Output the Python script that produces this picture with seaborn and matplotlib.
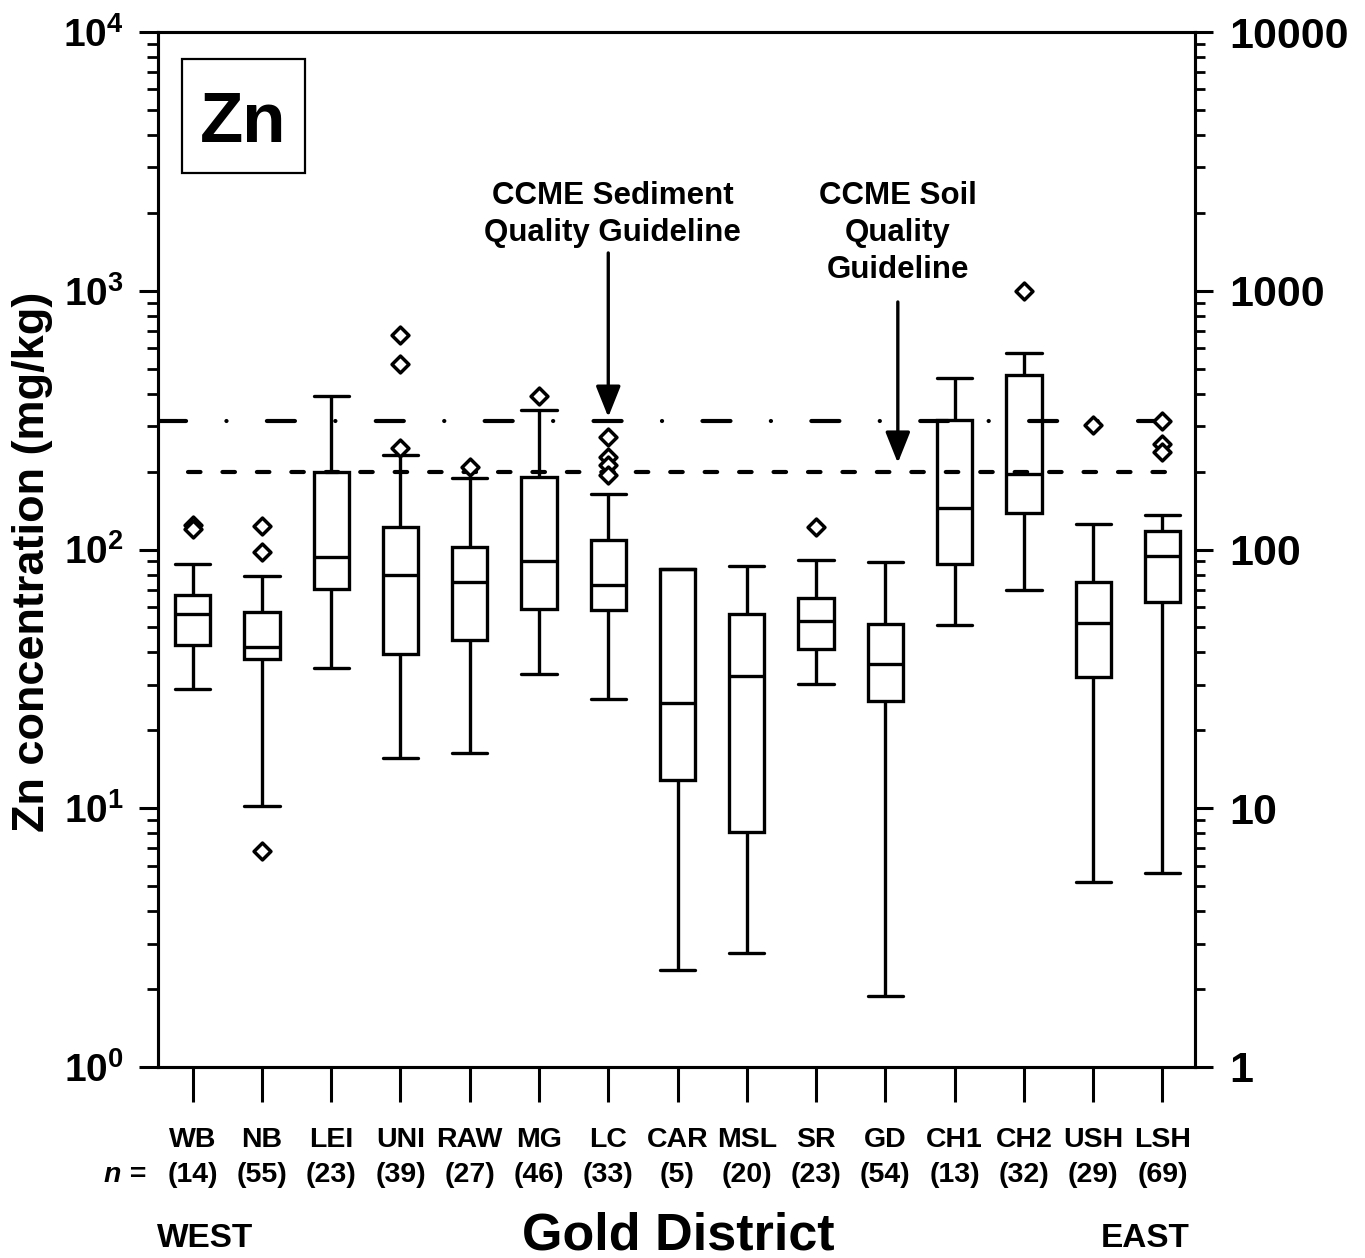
import numpy as np
import pandas as pd
import matplotlib
matplotlib.use("Agg")
import matplotlib.pyplot as plt
import matplotlib.transforms as mtransforms
from matplotlib.patches import Rectangle
from matplotlib.ticker import LogLocator, NullFormatter, FixedLocator, FixedFormatter
import seaborn as sns

# ---------------- data ----------------
districts = ["WB", "NB", "LEI", "UNI", "RAW", "MG", "LC", "CAR", "MSL", "SR",
             "GD", "CH1", "CH2", "USH", "LSH"]
n_samples = [14, 55, 23, 39, 27, 46, 33, 5, 20, 23, 54, 13, 32, 29, 69]
whisker_low = [28.8, 10.2, 34.9, 15.7, 16.3, 33.0, 26.5, 2.37, 2.76, 30.2,
               1.88, 51.0, 70.0, 5.17, 5.63]
q1 = [42.7, 37.7, 70.4, 39.6, 44.6, 58.9, 58.2, 12.9, 8.09, 41.1,
      26.0, 88.2, 138.3, 32.2, 62.7]
median = [56.5, 42.0, 93.3, 80.0, 75.2, 90.0, 72.7, 25.4, 32.5, 52.8,
          36.0, 145.2, 196.4, 52.0, 94.7]
q3 = [67.0, 57.2, 199.0, 121.8, 102.6, 190.0, 108.6, 84.1, 56.2, 65.0,
      51.7, 315.5, 474.0, 74.9, 117.6]
whisker_high = [87.7, 79.3, 390.7, 231.7, 188.8, 346.0, 163.8, 84.1, 86.3, 91.1,
                89.3, 459.0, 576.0, 126.0, 136.4]
outlier_district = ["WB", "WB", "NB", "NB", "NB", "UNI", "UNI", "UNI", "RAW", "MG",
                    "LC", "LC", "LC", "LC", "SR", "CH2", "USH", "LSH", "LSH", "LSH"]
outlier_value = [124.8, 120.5, 123.3, 97.8, 6.83, 672, 522, 247.5, 208, 391.6,
                 272, 227.7, 211.4, 193.5, 121.8, 1002, 302, 313, 256.4, 238.0]
sediment_guideline = 315
soil_guideline = 200
left_tick_values = [1, 10, 100, 1000, 10000]
left_tick_labels = [r"$\mathbf{10^{0}}$", r"$\mathbf{10^{1}}$", r"$\mathbf{10^{2}}$",
                    r"$\mathbf{10^{3}}$", r"$\mathbf{10^{4}}$"]
right_tick_labels = ["1", "10", "100", "1000", "10000"]

# five-number summary per district -> long table for seaborn
rows = []
for d, lo, a, m, b, hi in zip(districts, whisker_low, q1, median, q3, whisker_high):
    for v in (lo, a, m, b, hi):
        rows.append({"district": d, "value": v})
df = pd.DataFrame(rows)
df_out = pd.DataFrame({"district": outlier_district, "value": outlier_value})

# ---------------- style ----------------
sns.set_theme(style="ticks")
plt.rcParams["font.family"] = ["Liberation Sans", "DejaVu Sans"]
plt.rcParams["font.weight"] = "bold"
plt.rcParams["mathtext.fontset"] = "custom"
plt.rcParams["mathtext.rm"] = "Liberation Sans:bold"
plt.rcParams["mathtext.bf"] = "Liberation Sans:bold"
plt.rcParams["mathtext.it"] = "Liberation Sans:italic:bold"
plt.rcParams["lines.scale_dashes"] = False
plt.rcParams["axes.edgecolor"] = "black"
plt.rcParams["text.color"] = "black"
plt.rcParams["axes.labelcolor"] = "black"
plt.rcParams["xtick.color"] = "black"
plt.rcParams["ytick.color"] = "black"
plt.rcParams["xtick.labelcolor"] = "black"
plt.rcParams["ytick.labelcolor"] = "black"

W, H = 1365, 1258
fig = plt.figure(figsize=(W / 100, H / 100), dpi=100)
ax = fig.add_axes([158 / W, 1 - 1067 / H, (1195 - 158) / W, (1067 - 32) / H])

sns.boxplot(data=df, x="district", y="value", order=districts, whis=(0, 100),
            width=0.51, showfliers=False, color="white", linecolor="black",
            linewidth=2.4, log_scale=True, capwidths=0.51, ax=ax, zorder=2)

sns.stripplot(data=df_out, x="district", y="value", order=districts, jitter=False,
              marker="D", size=8.6, color="white", edgecolor="black",
              linewidth=2.5, ax=ax, zorder=5)

ax.set_yscale("log")
ax.set_ylim(1, 1e4)
ax.set_xlim(-0.5, 14.47)

# guideline lines
x_left = ax.get_xlim()[0]
ax.plot([x_left, 14.13], [sediment_guideline, sediment_guideline], color="black",
        lw=3.0, linestyle=(0, (20.2, 29.05, 0.1, 29.05)), dash_capstyle="round",
        zorder=4)
ax.plot([-0.07, 14.13], [soil_guideline, soil_guideline], color="black",
        lw=3.0, linestyle=(0, (9.0, 15.8)), dash_capstyle="round", zorder=4)

# ticks / spines
for s in ax.spines.values():
    s.set_linewidth(2.2)
    s.set_color("black")
ax.yaxis.set_major_locator(FixedLocator(left_tick_values))
ax.yaxis.set_major_formatter(FixedFormatter(left_tick_labels))
ax.yaxis.set_minor_locator(LogLocator(base=10, subs=np.arange(2, 10)))
ax.yaxis.set_minor_formatter(NullFormatter())
ax.tick_params(axis="y", which="major", direction="out", length=13.5, width=2.2,
               labelsize=28, pad=11, labelcolor="black")
ax.tick_params(axis="y", which="minor", direction="out", length=8, width=2.0)
ax.tick_params(axis="x", which="major", direction="out", length=25, width=2.2,
               labelbottom=False, top=False)
ax.set_xlabel("")
ax.set_ylabel("")
ax.grid(False)

ax2 = ax.twinx()
ax2.set_yscale("log")
ax2.set_ylim(1, 1e4)
ax2.yaxis.set_major_locator(FixedLocator(left_tick_values))
ax2.yaxis.set_major_formatter(FixedFormatter(right_tick_labels))
ax2.yaxis.set_minor_locator(LogLocator(base=10, subs=np.arange(2, 10)))
ax2.yaxis.set_minor_formatter(NullFormatter())
ax2.tick_params(axis="y", which="major", direction="out", length=13, width=2.2,
                labelsize=31, pad=12, labelcolor="black")
ax2.tick_params(axis="y", which="minor", direction="out", length=7.5, width=2.0)
for s in ax2.spines.values():
    s.set_linewidth(2.2)
    s.set_color("black")
ax2.grid(False)

# category labels and sample sizes
tr = mtransforms.blended_transform_factory(ax.transData, fig.transFigure)
for i, (d, n) in enumerate(zip(districts, n_samples)):
    ax.text(i, 1 - 1147 / H, d, transform=tr, ha="center", va="baseline",
            fontsize=20.5, fontweight="bold", color="black")
    ax.text(i, 1 - 1182 / H, f"({n})", transform=tr, ha="center", va="baseline",
            fontsize=20.5, fontweight="bold", color="black")
fig.text(146 / W, 1 - 1182 / H, "n =", ha="right", va="baseline", fontsize=20.5,
         fontweight="bold", fontstyle="italic", color="black")

fig.text(205 / W, 1 - 1247 / H, "WEST", ha="center", va="baseline", fontsize=24,
         fontweight="bold", color="black")
fig.text(678 / W, 1 - 1249 / H, "Gold District", ha="center", va="baseline",
         fontsize=37.5, fontweight="bold", color="black")
fig.text(1145 / W, 1 - 1247 / H, "EAST", ha="center", va="baseline", fontsize=24,
         fontweight="bold", color="black")

fig.text(33 / W, 1 - 562 / H, "Zn concentration (mg/kg)", rotation=90,
         ha="center", va="center", fontsize=32.5, fontweight="bold", color="black")

# element box
fig.patches.append(Rectangle((182 / W, 1 - 173 / H), 123 / W, 114 / H,
                             transform=fig.transFigure, fill=False,
                             edgecolor="black", linewidth=1.6))
fig.text(243 / W, 1 - 142 / H, "Zn", ha="center", va="baseline", fontsize=51,
         fontweight="bold", color="black")

# annotations
sed_lines = ["CCME Sediment", "Quality Guideline"]
for k, line in enumerate(sed_lines):
    ax.text(6.06, 1 - (204 + 37 * k) / H, line, transform=tr, ha="center",
            va="baseline", fontsize=22.5, fontweight="bold", color="black")
soil_lines = ["CCME Soil", "Quality", "Guideline"]
for k, line in enumerate(soil_lines):
    ax.text(10.18, 1 - (204 + 37 * k) / H, line, transform=tr, ha="center",
            va="baseline", fontsize=22.5, fontweight="bold", color="black")

arrow_kw = dict(arrowstyle="-|>,head_length=0.95,head_width=0.38", color="black",
                lw=2.4, shrinkA=0, shrinkB=0, mutation_scale=20)
ax.annotate("", xy=(6.0, 325), xytext=(6.0, 1400), arrowprops=arrow_kw, zorder=6)
ax.annotate("", xy=(10.18, 216), xytext=(10.18, 905), arrowprops=arrow_kw, zorder=6)

fig.savefig("out.png", dpi=100, facecolor="white")
